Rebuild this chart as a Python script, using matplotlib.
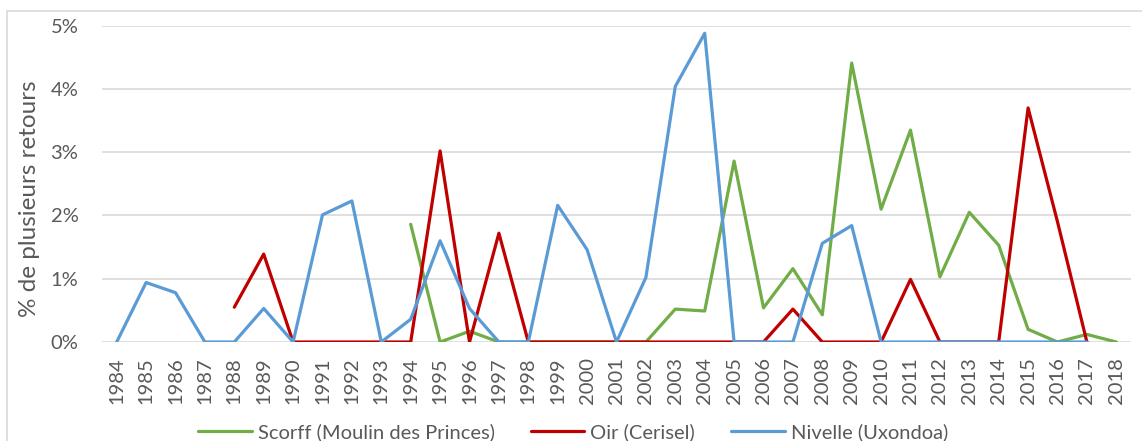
import numpy as np
import matplotlib.pyplot as plt
from matplotlib.patches import Rectangle

years = [str(y) for y in range(1984, 2019)]

# % of fish with several returns, per river and year (NaN = no data)
nan = np.nan
scorff = [nan] * 10 + [1.86, 0, 0.17, 0, 0, 0, 0, 0, 0, 0.52, 0.49, 2.86, 0.54,
                       1.16, 0.43, 4.41, 2.10, 3.35, 1.03, 2.05, 1.53, 0.20, 0, 0.12, 0]
oir = [nan] * 4 + [0.55, 1.39, 0, 0, 0, 0, 0, 3.02, 0, 1.72, 0, 0, 0, 0, 0, 0, 0,
                   0, 0, 0.52, 0, 0, 0, 0.99, 0, 0, 0, 3.70, 1.90, 0, nan]
nivelle = [0, 0.94, 0.78, 0, 0, 0.53, 0, 2.01, 2.23, 0, 0.36, 1.60, 0.53, 0, 0,
           2.16, 1.46, 0, 1.02, 4.04, 4.88, 0, 0, 0, 1.56, 1.84, 0, 0, 0, 0, 0,
           0, 0, 0, nan]

series = {
    'Scorff (Moulin des Princes)': {'values': scorff, 'color': '#70AD47'},
    'Oir (Cerisel)': {'values': oir, 'color': '#C00000'},
    'Nivelle (Uxondoa)': {'values': nivelle, 'color': '#5B9BD5'},
}

plt.rcParams['font.family'] = ['Lato', 'DejaVu Sans']
text_color = '#595959'
grid_color = '#D9D9D9'

fig = plt.figure(figsize=(11.42, 4.41), dpi=100)
# chart frame, runs off the right and bottom edges
fig.patches.append(Rectangle((7 / 1142, -0.2), 1.5, 1.2 - 11 / 441,
                             transform=fig.transFigure, fill=False,
                             edgecolor=grid_color, linewidth=1.2))
ax = fig.add_axes([102 / 1142, 1 - 342 / 441, 1029 / 1142, (342 - 25.7) / 441])

x = np.arange(len(years))
for name, s in series.items():
    ax.plot(x, s['values'], color=s['color'], linewidth=2.3, label=name,
            solid_joinstyle='round', solid_capstyle='round')

ax.set_xlim(-0.5, len(years) - 0.5)
ax.set_ylim(0, 5)
ax.set_yticks(range(6))
ax.set_yticklabels([f'{v}%' for v in range(6)])
ax.set_xticks(x)
ax.set_xticklabels(years, rotation=90)
ax.tick_params(axis='y', length=0, pad=17, labelsize=14.5, labelcolor=text_color)
ax.tick_params(axis='x', length=0, pad=11, labelsize=14.5, labelcolor=text_color)
ax.grid(axis='y', color=grid_color, linewidth=1.2)
ax.set_axisbelow(True)
for side in ['top', 'right', 'left', 'bottom']:
    ax.spines[side].set_visible(False)

fig.text(30 / 1142, 1 - 199 / 441, '% de plusieurs retours', rotation=90,
         ha='center', va='center', fontsize=17.5, color=text_color)

fig.legend(loc='center', bbox_to_anchor=(0.502, 9 / 441), ncol=3, frameon=False,
           fontsize=14.5, handlelength=2.65, handletextpad=0.3,
           columnspacing=1.8, labelcolor=text_color)

fig.savefig('out.png', dpi=100)
